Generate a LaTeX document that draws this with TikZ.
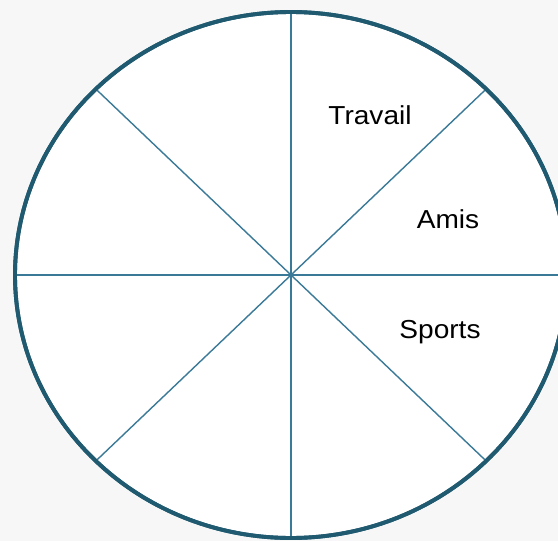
\documentclass[tikz,border=0pt]{standalone}
\usepackage{fontspec}
\setmainfont{Liberation Sans}
\usetikzlibrary{calc}
\definecolor{rim}{RGB}{31,90,112}
\definecolor{spoke}{RGB}{58,122,152}
\definecolor{bg}{RGB}{247,247,247}
\tikzset{
  rimline/.style={draw=rim, line width=3.9pt, fill=white},
  spokeline/.style={draw=spoke, line width=1.4pt},
  label/.style={font=\fontsize{26}{31}\selectfont, anchor=base, inner sep=0pt, xscale=1.08, transform shape}
}
\begin{document}
\begin{tikzpicture}[x=1pt, y=-1pt]
\useasboundingbox (0,0) rectangle (558,541);
\clip (0,0) rectangle (558,541);
\fill[bg] (0,0) rectangle (558,541);
\coordinate (c) at (291,275);
\draw[rimline] (c) ellipse [x radius=276, y radius=263];
\coordinate (n) at (291,12);
\coordinate (s) at (291,538);
\coordinate (w) at (15,275);
\coordinate (e) at (567,275);
\coordinate (ne) at ($(c)+(195.2,-186)$);
\coordinate (nw) at ($(c)+(-195.2,-186)$);
\coordinate (se) at ($(c)+(195.2,186)$);
\coordinate (sw) at ($(c)+(-195.2,186)$);
\foreach \p in {n,s,w,e,ne,nw,se,sw} \draw[spokeline] (c) -- (\p);
\draw[rimline, fill=none] (c) ellipse [x radius=276, y radius=263];
\node[label] (travail) at (370,124) {Travail};
\node[label] (amis) at (448,228) {Amis};
\node[label] (sports) at (440,338) {Sports};
\end{tikzpicture}
\end{document}
